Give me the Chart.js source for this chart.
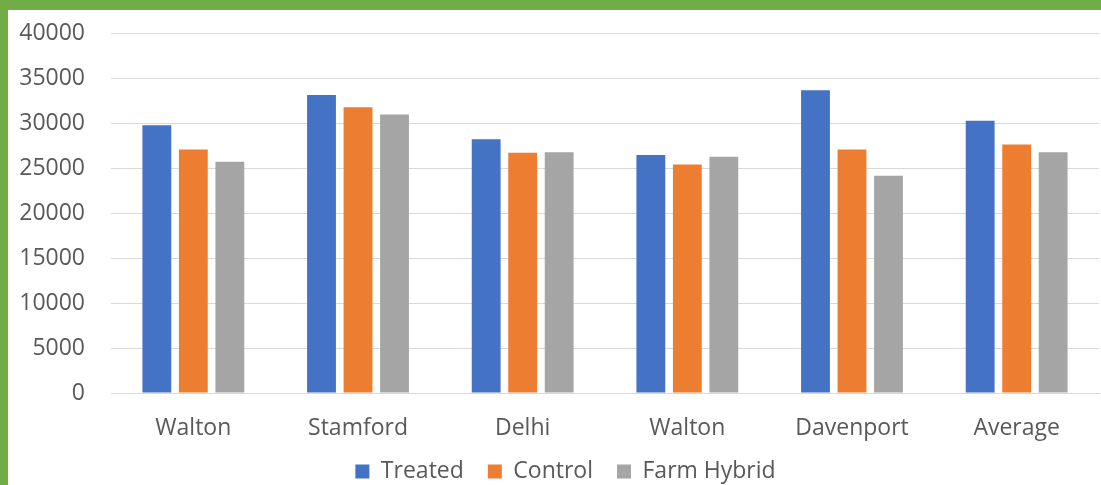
<!DOCTYPE html>
<html lang="en">
<head>
  <meta charset="utf-8"/>
  <title>Treated vs Control vs Farm Hybrid</title>
  <script src="https://cdn.jsdelivr.net/npm/chart.js@4.4.0/dist/chart.umd.min.js"></script>
  <style>
    html, body { margin: 0; padding: 0; background: #fff; }
    body { width: 1101px; height: 485px; overflow: hidden; }
    .frame {
      position: absolute; left: 0; top: 0;
      width: 1101px; height: 485px;
      border-top: 10px solid #70AD47;
      border-left: 8px solid #70AD47;
      box-sizing: border-box;
    }
    #wrap { position: absolute; left: 8px; top: 10px; width: 1093px; height: 475px; }
  </style>
</head>
<body>
<div class="frame"></div>
<div id="wrap"><canvas id="barChart"></canvas></div>

<script>
const categories = ["Walton", "Stamford", "Delhi", "Walton", "Davenport", "Average"];
const treated    = [29750, 33100, 28200, 26450, 33650, 30250];
const control    = [27050, 31750, 26700, 25400, 27050, 27600];
const farmHybrid = [25700, 30950, 26750, 26250, 24150, 26750];

const textColor = "#595959";
const gridColor = "#d9d9d9";
const fontFamily = "'Open Sans', 'Liberation Sans', sans-serif";
const fontSize = 23;

// the original legend sits a little right of centre and close to the bottom edge
const legendNudge = {
  id: "legendNudge",
  afterLayout(chart) {
    const lg = chart.legend;
    if (!lg) return;
    lg.left += 12; lg.right += 12;
    lg.top -= 7; lg.bottom -= 7;
  }
};

const ctx = document.getElementById("barChart").getContext("2d");
new Chart(ctx, {
  type: "bar",
  data: {
    labels: categories,
    datasets: [
      { label: "Treated", data: treated, backgroundColor: "#4472C4" },
      { label: "Control", data: control, backgroundColor: "#ED7D31" },
      { label: "Farm Hybrid", data: farmHybrid, backgroundColor: "#A5A5A5" }
    ]
  },
  options: {
    responsive: true,
    maintainAspectRatio: false,
    animation: false,
    categoryPercentage: 0.665,
    barPercentage: 0.79,
    layout: { padding: { top: 23, right: 2, left: 0, bottom: -15 } },
    plugins: {
      tooltip: { enabled: false },
      legend: {
        position: "bottom",
        labels: {
          color: textColor,
          font: { family: fontFamily, size: fontSize },
          boxWidth: 14,
          boxHeight: 14,
          padding: 24
        }
      }
    },
    scales: {
      x: {
        grid: { display: false, drawTicks: false },
        border: { display: true, color: gridColor, width: 1 },
        ticks: { color: textColor, font: { family: fontFamily, size: fontSize }, padding: 22 },
        afterFit(axis) { axis.height = 50; axis.paddingLeft = 0; axis.paddingRight = 0; }
      },
      y: {
        min: 0,
        max: 40000,
        ticks: {
          stepSize: 5000,
          color: textColor,
          font: { family: fontFamily, size: fontSize },
          padding: 26,
          callback: v => String(v)
        },
        grid: { color: gridColor, drawTicks: false },
        border: { display: false },
        afterFit(axis) { axis.width = 103; axis.paddingTop = 0; axis.paddingBottom = 0; }
      }
    }
  },
  plugins: [legendNudge]
});
</script>
</body>
</html>
